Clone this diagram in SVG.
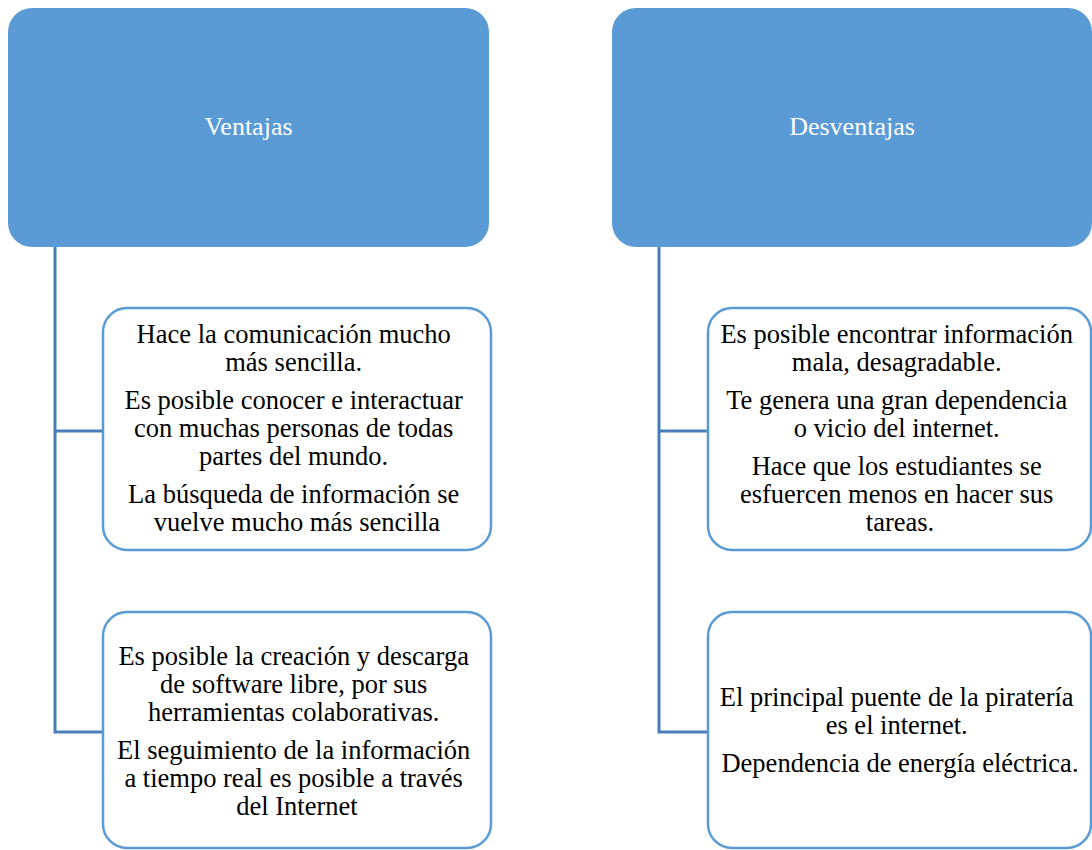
<svg xmlns="http://www.w3.org/2000/svg" width="1092" height="850" viewBox="0 0 1092 850">
<style>
.hdr{fill:#5B9BD5;}
.hdrt{fill:#ffffff;font-family:"Liberation Serif","Times New Roman",serif;font-size:26px;text-anchor:middle;}
.box{fill:#ffffff;stroke:#5B9BD5;stroke-width:2.5;}
.t{fill:#000000;font-family:"Liberation Serif","Times New Roman",serif;font-size:26.5px;text-anchor:middle;}
.conn{fill:none;stroke:#4A7EBB;stroke-width:3;}
</style>
<rect width="1092" height="850" fill="#ffffff"/>
<g id="connectors">
<path class="conn" d="M55,247 V732 H103 M55,431 H103"/>
<path class="conn" d="M659,247 V732 H708 M659,431 H708"/>
</g>
<g id="ventajas">
<rect class="hdr" x="8" y="8" width="481" height="239" rx="24" ry="24"/>
<text class="hdrt" x="248.5" y="135">Ventajas</text>
</g>
<g id="desventajas">
<rect class="hdr" x="612" y="8" width="480" height="239" rx="24" ry="24"/>
<text class="hdrt" x="852" y="135">Desventajas</text>
</g>
<g id="v1">
<rect class="box" x="103" y="308" width="388" height="242" rx="24" ry="24"/>
<text class="t">
<tspan x="297" y="343">Hace la comunicación mucho</tspan>
<tspan x="297" y="371">más sencilla.</tspan>
<tspan x="297" y="409">Es posible conocer e interactuar</tspan>
<tspan x="297" y="437">con muchas personas de todas</tspan>
<tspan x="297" y="465">partes del mundo.</tspan>
<tspan x="297" y="503">La búsqueda de información se</tspan>
<tspan x="297" y="531">vuelve mucho más sencilla</tspan>
</text>
</g>
<g id="v2">
<rect class="box" x="103" y="612" width="388" height="236" rx="24" ry="24"/>
<text class="t">
<tspan x="297" y="665">Es posible la creación y descarga</tspan>
<tspan x="297" y="693">de software libre, por sus</tspan>
<tspan x="297" y="721">herramientas colaborativas.</tspan>
<tspan x="297" y="759">El seguimiento de la información</tspan>
<tspan x="297" y="787">a tiempo real es posible a través</tspan>
<tspan x="297" y="815">del Internet</tspan>
</text>
</g>
<g id="d1">
<rect class="box" x="708" y="308" width="383" height="242" rx="24" ry="24"/>
<text class="t">
<tspan x="900" y="343">Es posible encontrar información</tspan>
<tspan x="900" y="371">mala, desagradable.</tspan>
<tspan x="900" y="409">Te genera una gran dependencia</tspan>
<tspan x="900" y="437">o vicio del internet.</tspan>
<tspan x="900" y="475">Hace que los estudiantes se</tspan>
<tspan x="900" y="503">esfuercen menos en hacer sus</tspan>
<tspan x="900" y="531">tareas.</tspan>
</text>
</g>
<g id="d2">
<rect class="box" x="708" y="612" width="383" height="236" rx="24" ry="24"/>
<text class="t">
<tspan x="900" y="706">El principal puente de la piratería</tspan>
<tspan x="900" y="734">es el internet.</tspan>
<tspan x="900" y="772">Dependencia de energía eléctrica.</tspan>
</text>
</g>
</svg>
